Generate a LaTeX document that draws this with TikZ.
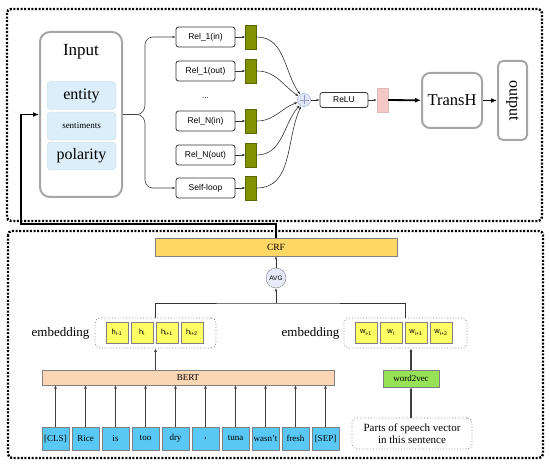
\documentclass[tikz,border=0pt]{standalone}
\usepackage{fontspec}
\setmainfont{Liberation Serif}
\setsansfont{Liberation Sans}
\usetikzlibrary{arrows.meta,positioning}

\definecolor{inblue}{RGB}{220,238,250}
\definecolor{oliveg}{RGB}{130,145,0}
\definecolor{pinkc}{RGB}{245,200,200}
\definecolor{plusfill}{RGB}{225,230,250}
\definecolor{plusedge}{RGB}{150,160,200}
\definecolor{crfc}{RGB}{255,215,100}
\definecolor{avgc}{RGB}{232,234,250}
\definecolor{yel}{RGB}{255,255,100}
\definecolor{bertc}{RGB}{251,214,180}
\definecolor{tokblue}{RGB}{90,200,245}
\definecolor{wtvc}{RGB}{150,225,85}

\begin{document}
\begin{tikzpicture}[x=1pt,y=1pt,
  outerframe/.style={draw=black,line width=2.4pt,dash pattern=on 2pt off 1.6pt,rounded corners=4pt},
  relbox/.style={draw=black!80,rounded corners=2.5pt,line width=0.8pt,minimum width=59pt,minimum height=20pt,inner sep=0pt,font=\sffamily\fontsize{8.5}{10}\selectfont},
  gate/.style={fill=oliveg,draw=oliveg!70!black,line width=0.3pt,minimum width=11pt,minimum height=24pt,inner sep=0pt},
  inbox/.style={fill=inblue,draw=inblue!80!gray,rounded corners=4pt,minimum width=69pt,minimum height=28pt,inner sep=0pt},
  hbox/.style={fill=yel,draw=gray,minimum width=22pt,minimum height=21pt,inner sep=0pt,font=\sffamily\fontsize{7.5}{8}\selectfont},
  tok/.style={fill=tokblue,draw=gray,minimum width=27.5pt,minimum height=23pt,inner sep=0pt,font=\fontsize{9}{10}\selectfont},
  groupbox/.style={draw=gray,dotted,rounded corners=5pt,line width=0.8pt},
  thinarrow/.style={-{Latex[length=3pt,width=2.5pt]},line width=0.6pt,black!80},
  tokarrow/.style={-{Latex[length=3.5pt,width=3pt]},line width=1.4pt,black!75},
  bigarrow/.style={-{Latex[length=6pt,width=5pt]},line width=1.8pt}
]
\useasboundingbox (0,0) rectangle (550,467);

% the two dotted frames
\draw[outerframe] (7,458) rectangle (542,246);
\draw[outerframe] (8,236) rectangle (543,9);

% input part
\node[draw=gray!70,line width=2pt,rounded corners=10pt,minimum width=82pt,minimum height=165pt] (input) at (81,352.5) {};
\node[font=\fontsize{17}{20}\selectfont] (inputlbl) at (81,415) {Input};
\node[inbox,font=\fontsize{16}{18}\selectfont] (entity) at (81.5,371.5) {entity};
\node[inbox,font=\fontsize{9}{10}\selectfont] (senti) at (81.5,341) {sentiments};
\node[inbox,font=\fontsize{16}{18}\selectfont] (polar) at (81.5,311) {polarity};

% relations
\node[relbox] (r1) at (205.5,430) {Rel\_1(in)};
\node[relbox] (r2) at (205.5,396) {Rel\_1(out)};
\node[font=\sffamily\fontsize{8}{9}\selectfont] (dots) at (205.5,369) {...};
\node[relbox] (r3) at (205.5,346) {Rel\_N(in)};
\node[relbox] (r4) at (205.5,312) {Rel\_N(out)};
\node[relbox] (r5) at (205.5,279) {Self-loop};

\foreach \i in {1,...,5}{
  \node[gate,right=10pt of r\i] (g\i) {};
  \draw[thinarrow] (r\i) -- (g\i);
}

\coordinate (br) at (137,352.5);
\draw[line width=0.6pt,black!75] (input.east) -- (br);
\draw[thinarrow,black!75] (br) to[out=0,in=-90] (145,362) -- (145,422) to[out=90,in=180] (153,430) -- (r1.west);
\draw[thinarrow,black!75] (br) to[out=0,in=90] (145,343) -- (145,287) to[out=-90,in=180] (153,279) -- (r5.west);

\node[circle,draw=plusedge,fill=plusfill,minimum size=13pt,inner sep=0pt] (plus) at (304,367) {};
\draw[plusedge!80!gray,line width=0.5pt] ([yshift=-4.5pt]plus.center) -- ([yshift=4.5pt]plus.center)
  ([xshift=-4.5pt]plus.center) -- ([xshift=4.5pt]plus.center);

\draw[thinarrow] (g1.east) to[out=0,in=125] (plus);
\draw[thinarrow] (g2.east) to[out=0,in=145] (plus);
\draw[thinarrow] (g3.east) to[out=0,in=200] (plus);
\draw[thinarrow] (g4.east) to[out=0,in=230] (plus);
\draw[thinarrow] (g5.east) to[out=0,in=245] (plus);

\node[relbox,minimum width=48pt,minimum height=15pt] (relu) at (344,367) {ReLU};
\node[fill=pinkc,draw=pinkc!80!gray,minimum width=11pt,minimum height=24pt,inner sep=0pt] (act) at (382.5,367) {};
\node[draw=gray!70,line width=2pt,rounded corners=8pt,minimum width=60pt,minimum height=55pt,font=\fontsize{16.5}{18}\selectfont] (transh) at (452,366.5) {TransH};
\node[draw=gray!70,line width=2pt,rounded corners=5pt,minimum width=29pt,minimum height=79pt] (out) at (512.5,366.5) {};
\node[rotate=-90,font=\fontsize{16}{18}\selectfont] (outlbl) at (out) {output};

\draw[thinarrow] (plus) -- (relu);
\draw[thinarrow] (relu) -- (act);
\draw[bigarrow] (act) -- (transh);
\draw[bigarrow] (transh) -- (out);

% lower part
\node[fill=crfc,draw=gray,minimum width=242pt,minimum height=18pt,inner sep=0pt,font=\fontsize{9.5}{11}\selectfont] (crf) at (276,220) {CRF};
\node[circle,fill=avgc,draw=gray,minimum size=20pt,inner sep=0pt,font=\sffamily\fontsize{6.5}{7}\selectfont] (avg) at (276,189) {AVG};
\draw[thinarrow] (avg) -- (crf);

\node[groupbox,minimum width=121pt,minimum height=30pt] (hgrp) at (155.5,134) {};
\node[hbox] (h1) at (117,134.5) {h\textsubscript{i-1}};
\node[hbox] (h2) at (142,134.5) {h\textsubscript{i}};
\node[hbox] (h3) at (167,134.5) {h\textsubscript{i+1}};
\node[hbox] (h4) at (192,134.5) {h\textsubscript{i+2}};
\node[anchor=east,font=\fontsize{13}{15}\selectfont] (hemb) at (93,134) {embedding};

\node[groupbox,minimum width=123pt,minimum height=30pt] (wgrp) at (405.5,134) {};
\node[hbox] (w1) at (366,134.5) {w\textsubscript{i-1}};
\node[hbox] (w2) at (391,134.5) {w\textsubscript{i}};
\node[hbox] (w3) at (416,134.5) {w\textsubscript{i+1}};
\node[hbox] (w4) at (441,134.5) {w\textsubscript{i+2}};
\node[anchor=east,font=\fontsize{13}{15}\selectfont] (wemb) at (343,134) {embedding};

\coordinate (jn) at (276,164);
\draw[line width=0.9pt,black!80] (hgrp.north) |- (jn) -| (wgrp.north);
\draw[thinarrow] (jn) -- (avg);

\node[fill=bertc,draw=gray,minimum width=292pt,minimum height=15pt,inner sep=0pt,font=\fontsize{9}{10}\selectfont] (bert) at (188,89.5) {BERT};
\draw[tokarrow] (bert.north -| hgrp) -- (hgrp.south);

\foreach \t [count=\i] in {{[CLS]},Rice,is,too,dry,{,},tuna,wasn't,fresh,{[SEP]}}{
  \node[tok] (tok\i) at ({25.5+30*\i},28.5) {\t};
  \draw[tokarrow] (tok\i) -- (tok\i |- bert.south);
}

\node[fill=wtvc,draw=gray,minimum width=56pt,minimum height=17pt,inner sep=0pt,font=\fontsize{9}{10}\selectfont] (wtv) at (411,88.5) {word2vec};
\draw[tokarrow] (wtv.north) -- (wtv.north |- wgrp.south);
\node[groupbox,minimum width=120pt,minimum height=31pt,align=center,font=\fontsize{11}{12.5}\selectfont] (pos) at (412,33.5) {Parts of speech vector\\in this sentence};
\draw[tokarrow] (pos.north -| wtv) -- (wtv.south);

% back to the input
\coordinate (fb) at (21,243);
\draw[bigarrow,line width=1.6pt] (crf.north) |- (fb) |- (input.west);
\end{tikzpicture}
\end{document}
